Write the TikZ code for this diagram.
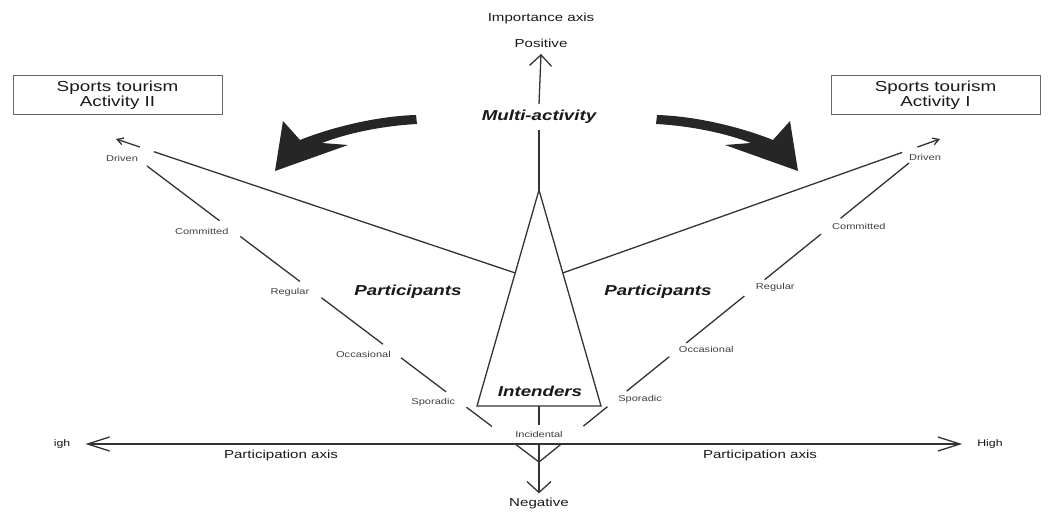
\documentclass[tikz,border=0pt]{standalone}
\usepackage{fontspec}
\setmainfont{Liberation Sans}[FakeStretch=1.3]
\usetikzlibrary{calc,arrows.meta}
\def\swoosh#1{\fill[#1] (416,115) .. controls (380,116) and (335,126) .. (300,140) -- (283,121) -- (275,171) -- (348,145) -- (322,143) .. controls (345,134) and (380,126) .. (417,124) -- cycle;}

\begin{document}
\begin{tikzpicture}[x=1pt, y=-1pt,
		axisline/.style={draw=black!80, line width=1.3pt},
		bigtip/.style={-{Straight Barb[length=11pt,width=22pt]}},
		tag/.style={font=\fontsize{8.5}{10}\selectfont, text=black!75, inner sep=1pt},
		zone/.style={font=\fontsize{14.4}{16}\selectfont\bfseries\itshape, text=black!90},
		axlabel/.style={font=\fontsize{11.6}{13}\selectfont, text=black!90},
		actbox/.style={draw=black!60, line width=1pt, minimum width=209pt, minimum height=39pt, align=center, font=\fontsize{14.5}{13}\selectfont, text=black!90}]
		%%%%% START %%%%%
		\useasboundingbox (0,0) rectangle (1058,521);
		\fill[white] (0,0) rectangle (1058,521);
		
		\node[actbox] (act2) at (117.5,95.5) {Sports tourism\\Activity II};
		\node[actbox] (act1) at (935.5,95.5) {Sports tourism\\Activity I};
		
		\swoosh{black!85}
		\swoosh{black!85, xshift=1073pt, xscale=-1}
		
		\node[axlabel] (impax) at (541,19) {Importance axis};
		\node[axlabel, inner sep=6pt] (positive) at (541,43.5) {Positive};
		\node[zone, inner ysep=6pt] (multi) at (539,117) {Multi-activity};
		
		\coordinate (apex) at (539,190);
		\coordinate (botL) at (477,406);
		\coordinate (botR) at (601,406);
		\coordinate (botM) at ($(botL)!0.5!(botR)$);
		\draw[axisline] (apex) -- (botL) -- (botR) -- cycle;
		\draw[axisline] (apex) -- (multi.south);
		\draw[axisline, bigtip] (multi.north) -- (positive.south);
		
		\node[tag, minimum height=19pt, inner sep=0pt] (incid) at (539,434.5) {Incidental};
		\node[axlabel, inner sep=4pt] (negative) at (539,503) {Negative};
		\draw[axisline] (botM) -- (incid.north);
		\draw[axisline, -{Straight Barb[length=11pt,width=24pt]}] (incid.south) -- (negative.north);
		
		% participation axis
		\node[axlabel, font=\fontsize{9.5}{11}\selectfont, inner xsep=15pt] (highL) at (62,444) {igh};
		\node[axlabel, font=\fontsize{9.5}{11}\selectfont, inner xsep=15pt] (highR) at (990,444) {High};
		\draw[axisline, {Straight Barb[length=22pt,width=14pt]}-{Straight Barb[length=22pt,width=14pt]}] (highL) -- (highR);
		\node[axlabel] (partL) at (281,456) {Participation axis};
		\node[axlabel] (partR) at (760,456) {Participation axis};
		
		% the two legs
		\coordinate (V) at (539,462);
		\coordinate (DL) at (147,166);
		\coordinate (DR) at (909,163);
		\foreach \e in {DL,DR} {
			\foreach \a/\b in {0/0.06, 0.12/0.185, 0.237/0.352, 0.398/0.555, 0.61/0.762, 0.815/1} {
				\draw[axisline] ($(V)!\a!(\e)$) -- ($(V)!\b!(\e)$);
			}
		}
		\foreach \t/\txt [count=\i] in {0.211/Sporadic, 0.375/Occasional, 0.583/Regular, 0.789/Committed} {
			\node[tag, anchor=east, yshift=-3pt] (lt\i) at ($(V)!\t!(DL)$) {\txt};
			\node[tag, anchor=west] (rt\i) at ($(V)!\t!(DR)$) {\txt};
		}
		\node[tag] (ltd) at (122,158) {Driven};
		\node[tag] (rtd) at (925,157) {Driven};
		
		% towards the activities
		\coordinate (legL) at ($(apex)!0.384!(botL)$);
		\coordinate (legR) at ($(apex)!0.384!(botR)$);
		\coordinate (tipL) at (116,139);
		\coordinate (tipR) at (940,139);
		\draw[axisline] (legL) -- ($(legL)!0.905!(tipL)$);
		\draw[axisline, -{Straight Barb[length=6pt,width=7pt]}] ($(legL)!0.94!(tipL)$) -- (tipL);
		\draw[axisline] (legR) -- ($(legR)!0.9!(tipR)$);
		\draw[axisline, -{Straight Barb[length=6pt,width=7pt]}] ($(legR)!0.94!(tipR)$) -- (tipR);
		
		\node[zone] (partsL) at (408,292) {Participants};
		\node[zone] (partsR) at (658,292) {Participants};
		\node[zone] (intend) at (540,391) {Intenders};
		%%%%% END %%%%%
\end{tikzpicture}
\end{document}
